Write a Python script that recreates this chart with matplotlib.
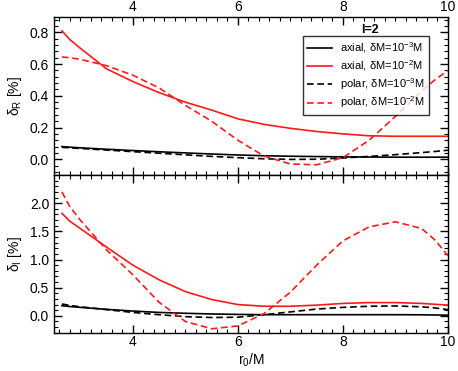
import numpy as np
import matplotlib
matplotlib.use("Agg")
import matplotlib.pyplot as plt
from matplotlib.ticker import MultipleLocator, FixedLocator, FormatStrFormatter

plt.rcParams['font.family'] = ['Liberation Sans', 'DejaVu Sans']
plt.rcParams['mathtext.fontset'] = 'custom'
plt.rcParams['mathtext.rm'] = 'Liberation Sans'
plt.rcParams['mathtext.it'] = 'Liberation Sans'

# radii where the curves were read
r0 = [2.65, 2.8, 3.0, 3.5, 4.0, 4.5, 5.0, 5.5, 6.0, 6.5, 7.0, 7.5, 8.0, 8.5, 9.0, 9.5, 9.75, 10.0]

# delta_R [%]
dR_axial_3 = [0.080, 0.076, 0.072, 0.063, 0.055, 0.047, 0.040, 0.033, 0.027, 0.022, 0.019, 0.017, 0.015, 0.014, 0.013, 0.013, 0.013, 0.013]
dR_axial_2 = [0.81, 0.755, 0.70, 0.57, 0.49, 0.42, 0.36, 0.31, 0.255, 0.22, 0.195, 0.175, 0.16, 0.148, 0.145, 0.145, 0.145, 0.145]
dR_polar_3 = [0.075, 0.072, 0.068, 0.058, 0.048, 0.038, 0.028, 0.018, 0.010, 0.003, -0.001, 0.0, 0.008, 0.018, 0.029, 0.042, 0.049, 0.057]
dR_polar_2 = [0.645, 0.64, 0.63, 0.59, 0.53, 0.45, 0.34, 0.24, 0.12, 0.02, -0.03, -0.035, 0.01, 0.12, 0.27, 0.43, 0.50, 0.56]

# delta_I [%]
dI_axial_3 = [0.18, 0.165, 0.15, 0.115, 0.085, 0.06, 0.045, 0.033, 0.025, 0.02, 0.02, 0.02, 0.02, 0.02, 0.02, 0.018, 0.015, 0.012]
dI_axial_2 = [1.82, 1.68, 1.55, 1.22, 0.90, 0.64, 0.43, 0.29, 0.20, 0.17, 0.17, 0.19, 0.22, 0.235, 0.235, 0.22, 0.205, 0.19]
dI_polar_3 = [0.21, 0.185, 0.16, 0.11, 0.06, 0.02, -0.015, -0.03, -0.025, 0.02, 0.07, 0.12, 0.15, 0.17, 0.175, 0.16, 0.14, 0.11]
dI_polar_2 = [2.2, 1.94, 1.70, 1.17, 0.73, 0.24, -0.10, -0.23, -0.18, 0.04, 0.42, 0.90, 1.33, 1.58, 1.67, 1.55, 1.35, 1.07]

labels = ['axial, δM=10$^{-3}$M', 'axial, δM=10$^{-2}$M',
          'polar, δM=10$^{-3}$M', 'polar, δM=10$^{-2}$M']

fig = plt.figure(figsize=(4.58, 3.71), dpi=100)
ax1 = fig.add_axes([0.118, 0.528, 0.860, 0.4275])
ax2 = fig.add_axes([0.118, 0.1032, 0.860, 0.425])

red = '#ff1a1a'
lw = 1.2
dash = (4, 2.2)

def draw(ax, a3, a2, p3, p2):
    ax.plot(r0, a3, color='black', lw=lw, label=labels[0])
    ax.plot(r0, a2, color=red, lw=lw, label=labels[1])
    ax.plot(r0, p3, color='black', lw=lw, dashes=dash, label=labels[2])
    ax.plot(r0, p2, color=red, lw=lw, dashes=dash, label=labels[3])
    ax.set_xlim(2.5, 10)
    ax.xaxis.set_major_locator(MultipleLocator(2))
    ax.xaxis.set_minor_locator(MultipleLocator(0.2))
    ax.tick_params(which='both', direction='in', top=True, right=True, labelsize=10)
    ax.tick_params(axis='x', which='major', pad=1.5)
    ax.tick_params(which='major', length=6, width=1)
    ax.tick_params(which='minor', length=3, width=0.8)
    for s in ax.spines.values():
        s.set_linewidth(1)

draw(ax1, dR_axial_3, dR_axial_2, dR_polar_3, dR_polar_2)
ax1.set_ylim(-0.1, 0.9)
ax1.yaxis.set_major_locator(FixedLocator([0.0, 0.2, 0.4, 0.6, 0.8]))
ax1.yaxis.set_minor_locator(MultipleLocator(0.04))
ax1.yaxis.set_major_formatter(FormatStrFormatter('%.1f'))
ax1.tick_params(labelbottom=False, labeltop=True)
ax1.set_ylabel('δ$_{\\rm R}$ [%]', fontsize=10, labelpad=4)

leg = ax1.legend(loc='upper right', bbox_to_anchor=(0.952, 0.878), fontsize=8,
                 handlelength=2.2, frameon=True, fancybox=False, borderaxespad=0,
                 labelspacing=0.26, handletextpad=0.7, borderpad=0.42)
leg.get_frame().set_edgecolor('black')
leg.get_frame().set_linewidth(1)
ax1.text(0.802, 0.912, 'l=2', transform=ax1.transAxes, ha='center', va='center',
         fontsize=9, fontweight='bold')

draw(ax2, dI_axial_3, dI_axial_2, dI_polar_3, dI_polar_2)
ax2.set_ylim(-0.3, 2.5)
ax2.yaxis.set_major_locator(FixedLocator([0.0, 0.5, 1.0, 1.5, 2.0]))
ax2.yaxis.set_minor_locator(MultipleLocator(0.1))
ax2.yaxis.set_major_formatter(FormatStrFormatter('%.1f'))
ax2.set_ylabel('δ$_{\\rm I}$ [%]', fontsize=10, labelpad=4)
ax2.set_xlabel('r$_0$/M', fontsize=10, labelpad=2)

fig.savefig('out.png', dpi=100)
